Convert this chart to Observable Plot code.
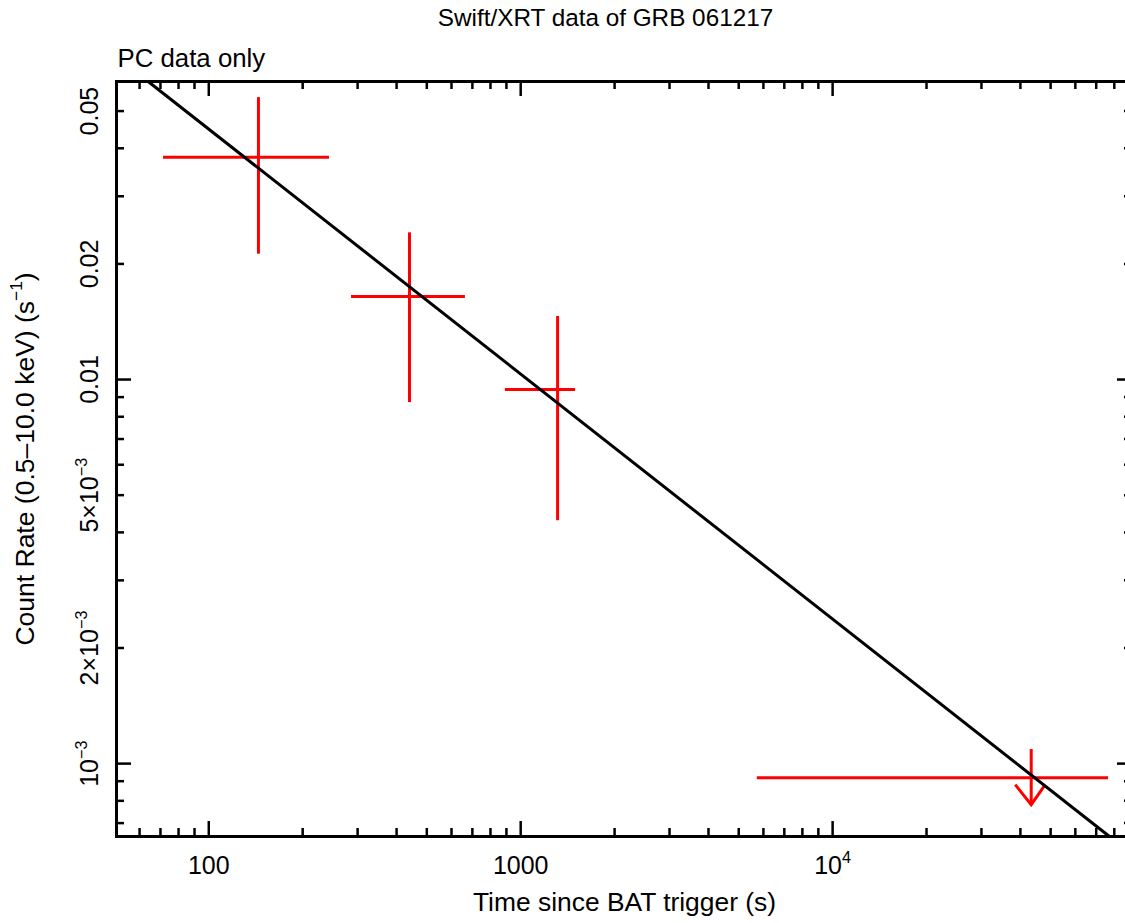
<!DOCTYPE html>
<html><head><meta charset="utf-8">
<script src="https://cdn.jsdelivr.net/npm/d3@7"></script>
<script src="https://cdn.jsdelivr.net/npm/@observablehq/plot@0.6"></script>
<style>
html,body{margin:0;padding:0;background:#fff;overflow:hidden;}
#chart{width:1132px;}
</style></head><body><div id="chart"></div>
<script>
// ---- texts ----
const title = "Swift/XRT data of GRB 061217";
const subtitle = "PC data only";
const xLabel = "Time since BAT trigger (s)";
const yLabel = "Count Rate (0.5–10.0 keV) (s^{−1})";

// ---- detections (PC mode) ----
const t      = [144.3, 440, 1313];
const tLo    = [71.6, 286.8, 893];
const tHi    = [243.8, 665, 1500];
const rate   = [0.0379, 0.01645, 0.00942];
const rateLo = [0.0212, 0.00871, 0.00429];
const rateHi = [0.0542, 0.0241, 0.01459];

// ---- upper limit ----
const ulT    = [43320];
const ulTLo  = [5736];
const ulTHi  = [76670];
const ulRate = [9.19e-4];
const ulTop  = [1.088e-3];
const ulTip  = [7.82e-4];

// ---- power-law fit line (end points) ----
const fitT    = [63.9, 77200];
const fitRate = [0.0597, 0.000646];

// ---- axes ----
const xDomain = [50.6, 91500];
const yDomain = [6.46e-4, 0.0597];
const xTickValues = [100, 1000, 10000];
const xTickLabels = ["100", "1000", "10^{4}"];
const yTickValues = [0.05, 0.02, 0.01, 0.005, 0.002, 0.001];
const yTickLabels = ["0.05", "0.02", "0.01", "5×10^{−3}", "2×10^{−3}", "10^{−3}"];

// ---- build ----
const pts = t.map((v, i) => ({t: v, tLo: tLo[i], tHi: tHi[i], rate: rate[i], lo: rateLo[i], hi: rateHi[i]}));
const uls = ulT.map((v, i) => ({t: v, tLo: ulTLo[i], tHi: ulTHi[i], rate: ulRate[i], top: ulTop[i], tip: ulTip[i]}));
const fit = fitT.map((v, i) => ({t: v, rate: fitRate[i]}));

function logTicks(domain) {
  const major = [], minor = [];
  for (let e = -5; e <= 6; e++) for (let m = 1; m <= 9; m++) {
    const v = m * Math.pow(10, e);
    if (v >= domain[0] * 1.0001 && v <= domain[1] * 0.9999) (m === 1 ? major : minor).push(v);
  }
  return {major, minor};
}
const xt = logTicks(xDomain), yt = logTicks(yDomain);

const W = 1132, H = 923, mL = 116, mT = 81, mB = 87, mR = 0;
const fw = W - mL - mR, fh = H - mT - mB;
const LM = 15, Lm = 8, tw = 2.5;

const vSymbol = {draw(ctx, size) { const r = Math.sqrt(size / Math.PI) / 20; ctx.moveTo(-16 * r, -20 * r); ctx.lineTo(0, 0); ctx.lineTo(14 * r, -20 * r); }};

const plot = Plot.plot({
  width: W, height: H,
  marginLeft: mL, marginRight: mR, marginTop: mT, marginBottom: mB,
  style: {fontFamily: "'Liberation Sans', Arial, sans-serif", background: "white", color: "black", overflow: "visible"},
  x: {type: "log", domain: xDomain, axis: null},
  y: {type: "log", domain: yDomain, axis: null},
  marks: [
    // ticks (inward, all four sides)
    Plot.ruleX(xt.major, {x: d => d, insetTop: fh - LM, stroke: "black", strokeWidth: tw}),
    Plot.ruleX(xt.minor, {x: d => d, insetTop: fh - Lm, stroke: "black", strokeWidth: tw}),
    Plot.ruleX(xt.major, {x: d => d, insetBottom: fh - LM, stroke: "black", strokeWidth: tw}),
    Plot.ruleX(xt.minor, {x: d => d, insetBottom: fh - Lm, stroke: "black", strokeWidth: tw}),
    Plot.ruleY(yt.major, {y: d => d, insetRight: fw - LM, stroke: "black", strokeWidth: tw}),
    Plot.ruleY(yt.minor, {y: d => d, insetRight: fw - Lm, stroke: "black", strokeWidth: tw}),
    Plot.ruleY(yt.major, {y: d => d, insetLeft: fw - LM, stroke: "black", strokeWidth: tw}),
    Plot.ruleY(yt.minor, {y: d => d, insetLeft: fw - Lm, stroke: "black", strokeWidth: tw}),
    Plot.frame({stroke: "black", strokeWidth: 3}),
    // tick labels
    Plot.text(xTickValues, {x: d => d, text: (d, i) => xTickLabels[i], frameAnchor: "bottom", dy: 37, lineAnchor: "bottom", fontSize: 25, fill: "black"}),
    Plot.text(yTickValues, {y: d => d, text: (d, i) => yTickLabels[i], frameAnchor: "left", dx: -19, rotate: -90, lineAnchor: "bottom", textAnchor: "middle", fontSize: 25, fill: "black"}),
    // titles
    Plot.text([title], {text: d => d, frameAnchor: "top", dx: -19, dy: -56, lineAnchor: "bottom", fontSize: 24.3, fill: "black"}),
    Plot.text([subtitle], {text: d => d, frameAnchor: "top-left", textAnchor: "start", dx: 1, dy: -15, lineAnchor: "bottom", fontSize: 25.8, fill: "black"}),
    Plot.text([xLabel], {text: d => d, frameAnchor: "bottom", dy: 74, lineAnchor: "bottom", fontSize: 26.4, fill: "black"}),
    Plot.text([yLabel], {text: d => d, frameAnchor: "left", dx: -83, rotate: -90, lineAnchor: "bottom", textAnchor: "middle", fontSize: 26.5, fill: "black"}),
    // data
    Plot.ruleY(pts, {y: "rate", x1: "tLo", x2: "tHi", stroke: "red", strokeWidth: 3}),
    Plot.ruleX(pts, {x: "t", y1: "lo", y2: "hi", stroke: "red", strokeWidth: 3}),
    Plot.ruleY(uls, {y: "rate", x1: "tLo", x2: "tHi", stroke: "red", strokeWidth: 3}),
    Plot.ruleX(uls, {x: "t", y1: "top", y2: "tip", stroke: "red", strokeWidth: 3}),
    Plot.dot(uls, {x: "t", y: "tip", symbol: vSymbol, r: 20, fill: "none", stroke: "red", strokeWidth: 3, strokeLinejoin: "miter"}),
    // fit
    Plot.line(fit, {x: "t", y: "rate", stroke: "black", strokeWidth: 3})
  ]
});
document.getElementById("chart").appendChild(plot);

// superscripts
plot.querySelectorAll("text").forEach(el => {
  const s = el.textContent;
  if (!s.includes("^{")) return;
  const fs = parseFloat(getComputedStyle(el).fontSize) || 25;
  el.textContent = "";
  const parts = s.split(/(\^\{[^}]*\})/).filter(p => p);
  let raised = false;
  for (const p of parts) {
    const ts = document.createElementNS("http://www.w3.org/2000/svg", "tspan");
    if (p.startsWith("^{")) {
      ts.textContent = p.slice(2, -1);
      ts.setAttribute("font-size", (fs * 0.65) + "px");
      ts.setAttribute("dy", (-0.42 * fs) + "px");
      raised = true;
    } else {
      ts.textContent = p;
      if (raised) { ts.setAttribute("dy", (0.42 * fs) + "px"); raised = false; }
    }
    el.appendChild(ts);
  }
});
</script>
</body></html>
